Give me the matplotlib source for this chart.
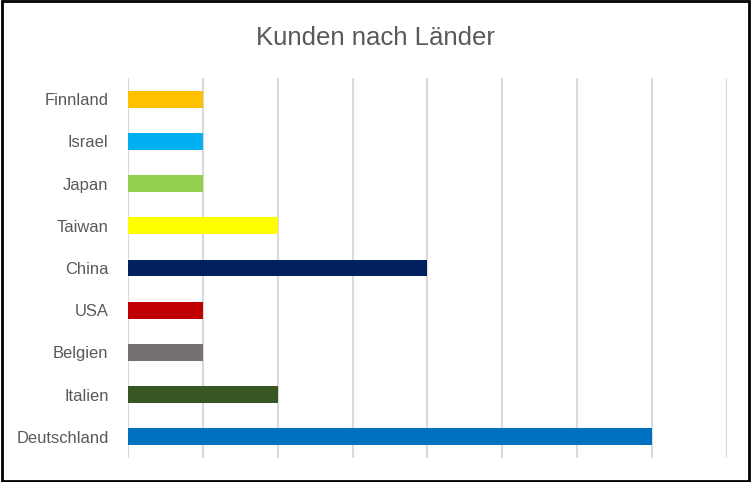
import matplotlib
matplotlib.use("Agg")
import matplotlib.pyplot as plt
from matplotlib.patches import Rectangle

# data, top to bottom as shown
countries = ["Finnland", "Israel", "Japan", "Taiwan", "China", "USA", "Belgien", "Italien", "Deutschland"]
kunden = [1, 1, 1, 2, 4, 1, 1, 2, 7]
colors = ["#FFC000", "#00B0F0", "#92D050", "#FFFF00", "#002060", "#C00000", "#767171", "#375623", "#0070C0"]

plt.rcParams["font.family"] = ["Liberation Sans", "DejaVu Sans"]

fig = plt.figure(figsize=(7.51, 4.82), dpi=100)
ax = fig.add_axes([0.1704, 0.0498, 0.7976, 0.7884])

ypos = list(range(len(countries)))
ax.barh(ypos, kunden, height=0.4, color=colors, zorder=3)

ax.set_xlim(0, 8)
ax.set_ylim(len(countries) - 0.5, -0.5)
ax.set_xticks(range(0, 9))
ax.set_xticklabels([])
ax.set_yticks(ypos)
ax.set_yticklabels(countries, fontsize=11.9, color="#595959")
ax.tick_params(axis="both", length=0, pad=14)
ax.grid(axis="x", color="#D9D9D9", linewidth=1.5, zorder=0)
for s in ax.spines.values():
    s.set_visible(False)

fig.text(0.5, 0.921, "Kunden nach Länder", ha="center", va="center",
         fontsize=18.5, color="#595959")

# black frame round the chart
fig.patches.append(Rectangle((0.002, 0.003), 0.996, 0.994, transform=fig.transFigure,
                             fill=False, edgecolor="black", linewidth=2))

fig.savefig("out.png", dpi=100)
